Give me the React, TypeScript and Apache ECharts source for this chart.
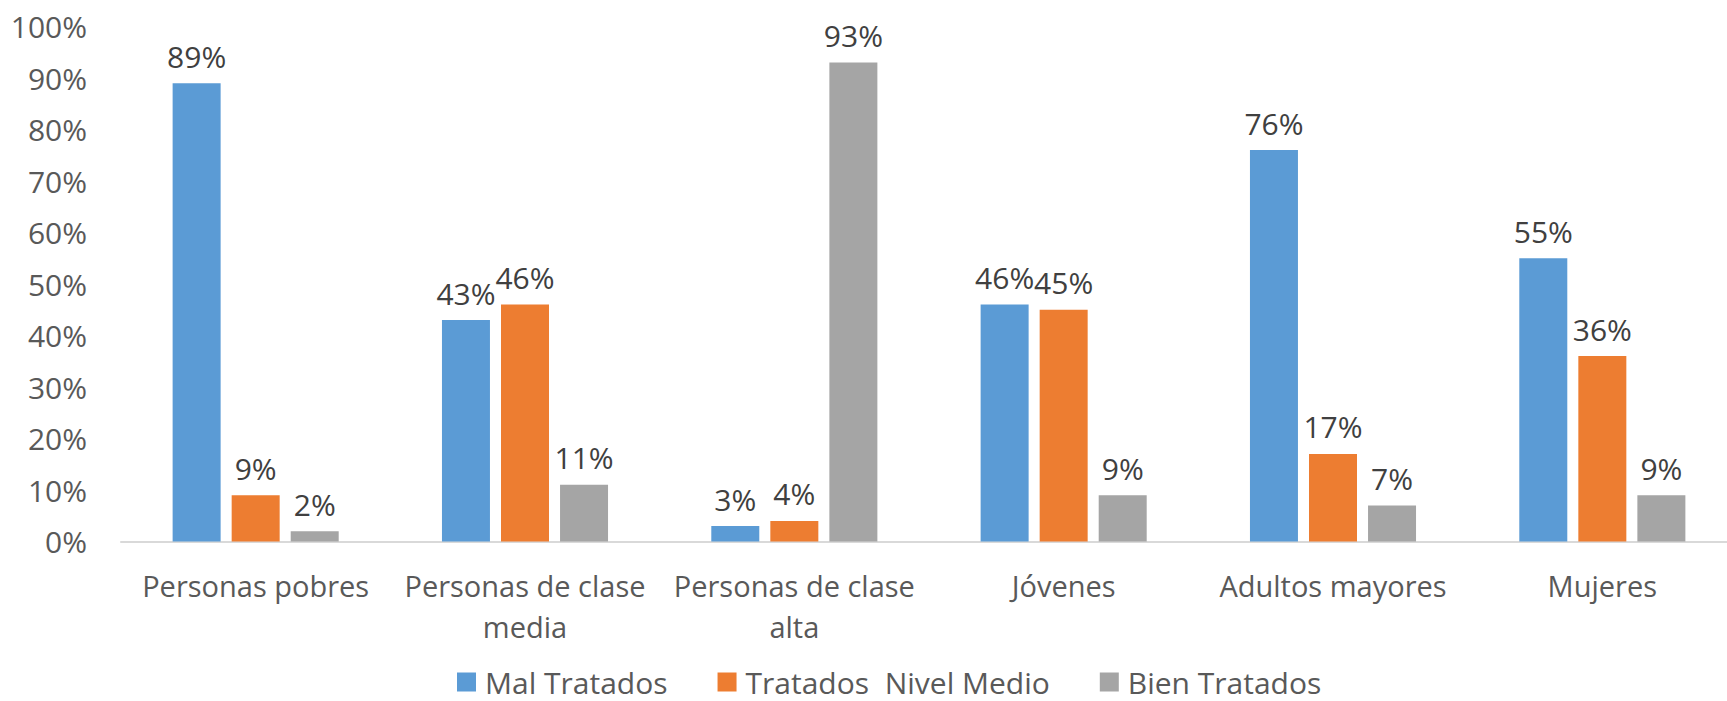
import React, { useEffect, useRef } from "react";
import * as echarts from "echarts";

const categories = [
  "Personas pobres",
  "Personas de clase\nmedia",
  "Personas de clase\nalta",
  "Jóvenes",
  "Adultos mayores",
  "Mujeres",
];
const seriesNames = ["Mal Tratados", "Tratados  Nivel Medio", "Bien Tratados"];
const malTratados = [89, 43, 3, 46, 76, 55];
const nivelMedio = [9, 46, 4, 45, 17, 36];
const bienTratados = [2, 11, 93, 9, 7, 9];
const colors = ["#5B9BD5", "#ED7D31", "#A5A5A5"];

const FONT = "'Open Sans', 'Noto Sans', sans-serif";

export default function App() {
  const ref = useRef<HTMLDivElement>(null);
  useEffect(() => {
    if (!ref.current) return;
    const chart = echarts.init(ref.current, null, { renderer: "svg" });
    const data = [malTratados, nivelMedio, bienTratados];
    chart.setOption({
      animation: false,
      backgroundColor: "#ffffff",
      textStyle: { fontFamily: FONT },
      grid: {
        left: 121,
        top: 26.5,
        width: 1616,
        height: 515,
        containLabel: false,
        outerBoundsMode: "none",
      },
      legend: {
        left: 457,
        top: 667,
        padding: 0,
        itemWidth: 19,
        itemHeight: 19,
        itemGap: 50,
        icon: "rect",
        data: seriesNames,
        textStyle: {
          fontFamily: FONT,
          fontSize: 30,
          color: "#595959",
          padding: [0, 0, 0, 4],
        },
      },
      xAxis: {
        type: "category",
        data: categories,
        axisLine: { show: true, lineStyle: { color: "#D9D9D9", width: 2 } },
        axisTick: { show: false },
        axisLabel: {
          fontFamily: FONT,
          fontSize: 29,
          color: "#595959",
          lineHeight: 41,
          margin: 23,
          interval: 0,
        },
      },
      yAxis: {
        type: "value",
        min: 0,
        max: 100,
        interval: 10,
        axisLine: { show: false },
        axisTick: { show: false },
        splitLine: { show: false },
        axisLabel: {
          formatter: "{value}%",
          fontFamily: FONT,
          fontSize: 30,
          color: "#595959",
          margin: 34,
        },
      },
      series: seriesNames.map((name, i) => ({
        name,
        type: "bar",
        data: data[i],
        barWidth: 48,
        barGap: "23%",
        itemStyle: { color: colors[i] },
        label: {
          show: true,
          position: "top",
          distance: 12,
          formatter: "{c}%",
          fontFamily: FONT,
          fontSize: 30,
          color: "#404040",
        },
      })),
    });
    return () => chart.dispose();
  }, []);
  return (
    <div
      ref={ref}
      style={{ position: "absolute", left: 0, top: 0, width: 1727, height: 701 }}
    />
  );
}
